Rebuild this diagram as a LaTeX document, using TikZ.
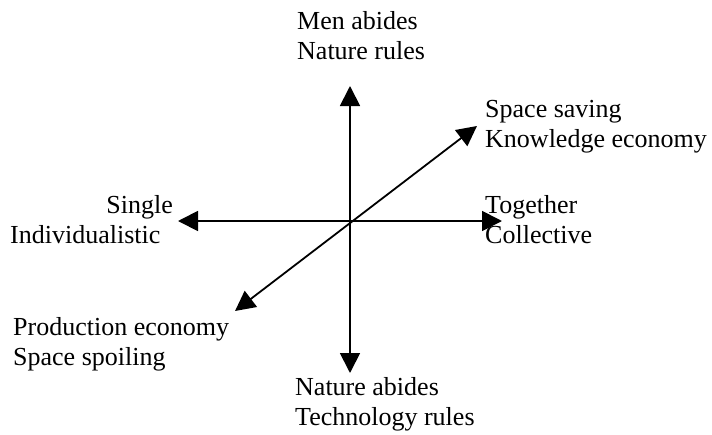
\documentclass[tikz,border=0pt]{standalone}
\usepackage{fontspec}
\setmainfont{Liberation Serif}
\usetikzlibrary{arrows.meta}
\tikzset{
  every node/.style={font=\fontsize{26}{30}\selectfont, inner sep=0pt},
  lbl/.style={anchor=base west, align=left},
  axis/.style={{Triangle[length=20pt,width=20pt]}-{Triangle[length=20pt,width=20pt]},
               line width=1.8pt},
}
\begin{document}
\begin{tikzpicture}[x=1pt, y=-1pt]
  \useasboundingbox (0,0) rectangle (712,434);

  % ---- arrow ends ----
  \coordinate (n)  at (350,86);
  \coordinate (s)  at (350,373);
  \coordinate (w)  at (178,221);
  \coordinate (e)  at (502,221);
  \coordinate (ne) at (477,126);
  \coordinate (sw) at (235,311);

  % ---- axes ----
  \draw[axis] (s)  -- (n);
  \draw[axis] (w)  -- (e);
  \draw[axis] (sw) -- (ne);

  % ---- labels (base = last line) ----
  \node[lbl] (men)    at (297,59)  {Men abides\\Nature rules};
  \node[lbl] (space)  at (485,147) {Space saving\\Knowledge economy};
  \node[lbl] (tog)    at (485,243) {Together\\Collective};
  \node[anchor=base east] (single) at (173,213) {Single};
  \node[lbl] (indiv)  at (10,243)  {Individualistic};
  \node[lbl] (prod)   at (13,365)  {Production economy\\Space spoiling};
  \node[lbl] (nature) at (295,425) {Nature abides\\Technology rules};
\end{tikzpicture}
\end{document}
